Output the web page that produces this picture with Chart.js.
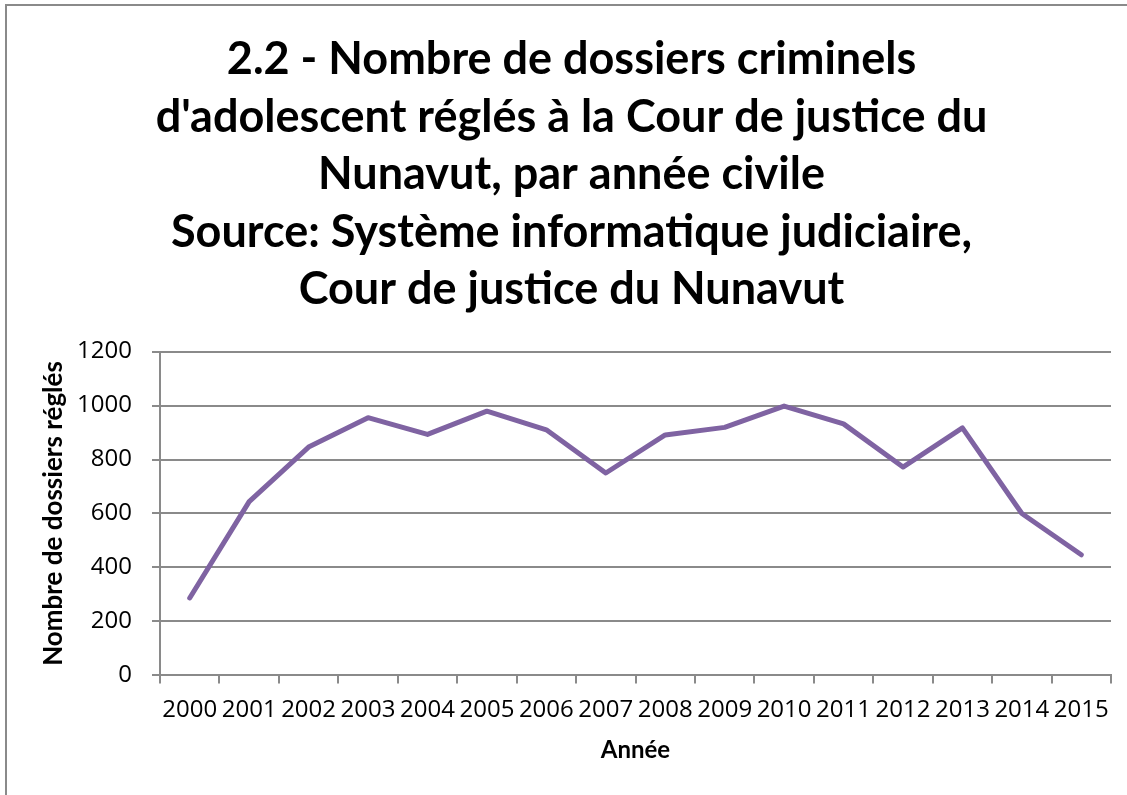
<!DOCTYPE html>
<html>
<head>
<meta charset="utf-8">
<script src="https://cdn.jsdelivr.net/npm/chart.js@4"></script>
<style>
  html, body { margin: 0; padding: 0; background: #fff; width: 1127px; height: 795px; overflow: hidden; }
  #frame { position: absolute; left: 5px; top: 4px; width: 1200px; height: 900px; border-left: 2px solid #8a8a8a; border-top: 2px solid #8a8a8a; }
  #c { position: absolute; left: 0; top: 0; }
</style>
</head>
<body>
<div id="frame"></div>
<canvas id="c" width="1127" height="795"></canvas>
<script>
const years = ['2000','2001','2002','2003','2004','2005','2006','2007','2008','2009','2010','2011','2012','2013','2014','2015'];
const dossiers = [287, 644, 846, 955, 893, 979, 910, 750, 891, 919, 998, 932, 772, 917, 600, 447];
const titleLines = [
  '2.2 - Nombre de dossiers criminels',
  "d'adolescent réglés à la Cour de justice du",
  'Nunavut, par année civile',
  'Source: Système informatique judiciaire,',
  'Cour de justice du Nunavut'
];
const xTitle = 'Année';
const yTitle = 'Nombre de dossiers réglés';

const TFONT = 'Lato, "Open Sans", sans-serif';
const NFONT = '"Open Sans", sans-serif';
const gridColor = '#8a8a8a';

new Chart(document.getElementById('c'), {
  type: 'line',
  data: {
    labels: years,
    datasets: [{
      label: 'Dossiers',
      data: dossiers,
      borderColor: '#7f63a2',
      backgroundColor: '#7f63a2',
      borderWidth: 5,
      pointRadius: 0,
      tension: 0,
      borderCapStyle: 'round',
      borderJoinStyle: 'round'
    }]
  },
  options: {
    responsive: false,
    animation: false,
    layout: { padding: { left: 32, right: 16, top: 0, bottom: 30 } },
    plugins: {
      legend: { display: false },
      tooltip: { enabled: false },
      title: {
        display: true,
        text: titleLines,
        color: '#000',
        font: { family: TFONT, size: 45, weight: 'bold', lineHeight: 1.278 },
        padding: { top: 31, bottom: 33 }
      }
    },
    scales: {
      x: {
        offset: true,
        grid: { display: true, drawOnChartArea: false, drawTicks: true, tickLength: 8, offset: true, color: gridColor, lineWidth: 2 },
        border: { display: true, color: gridColor, width: 2 },
        ticks: { color: '#000', font: { family: NFONT, size: 24 }, padding: 12, maxRotation: 0, autoSkip: false },
        title: { display: true, text: xTitle, color: '#000', font: { family: TFONT, size: 24, weight: 'bold' }, padding: { top: 0, bottom: 0 } }
      },
      y: {
        min: 0,
        max: 1200,
        afterFit: (scale) => { scale.width = 128; },
        ticks: { stepSize: 200, color: '#000', font: { family: NFONT, size: 24 }, padding: 20, callback: (v) => String(v) },
        grid: { color: gridColor, lineWidth: 2, tickLength: 8, drawTicks: true },
        border: { display: true, color: gridColor, width: 2 },
        title: { display: true, text: yTitle, color: '#000', font: { family: TFONT, size: 26, weight: 'bold' }, padding: { top: 6, bottom: 1 } }
      }
    }
  }
});
</script>
</body>
</html>
